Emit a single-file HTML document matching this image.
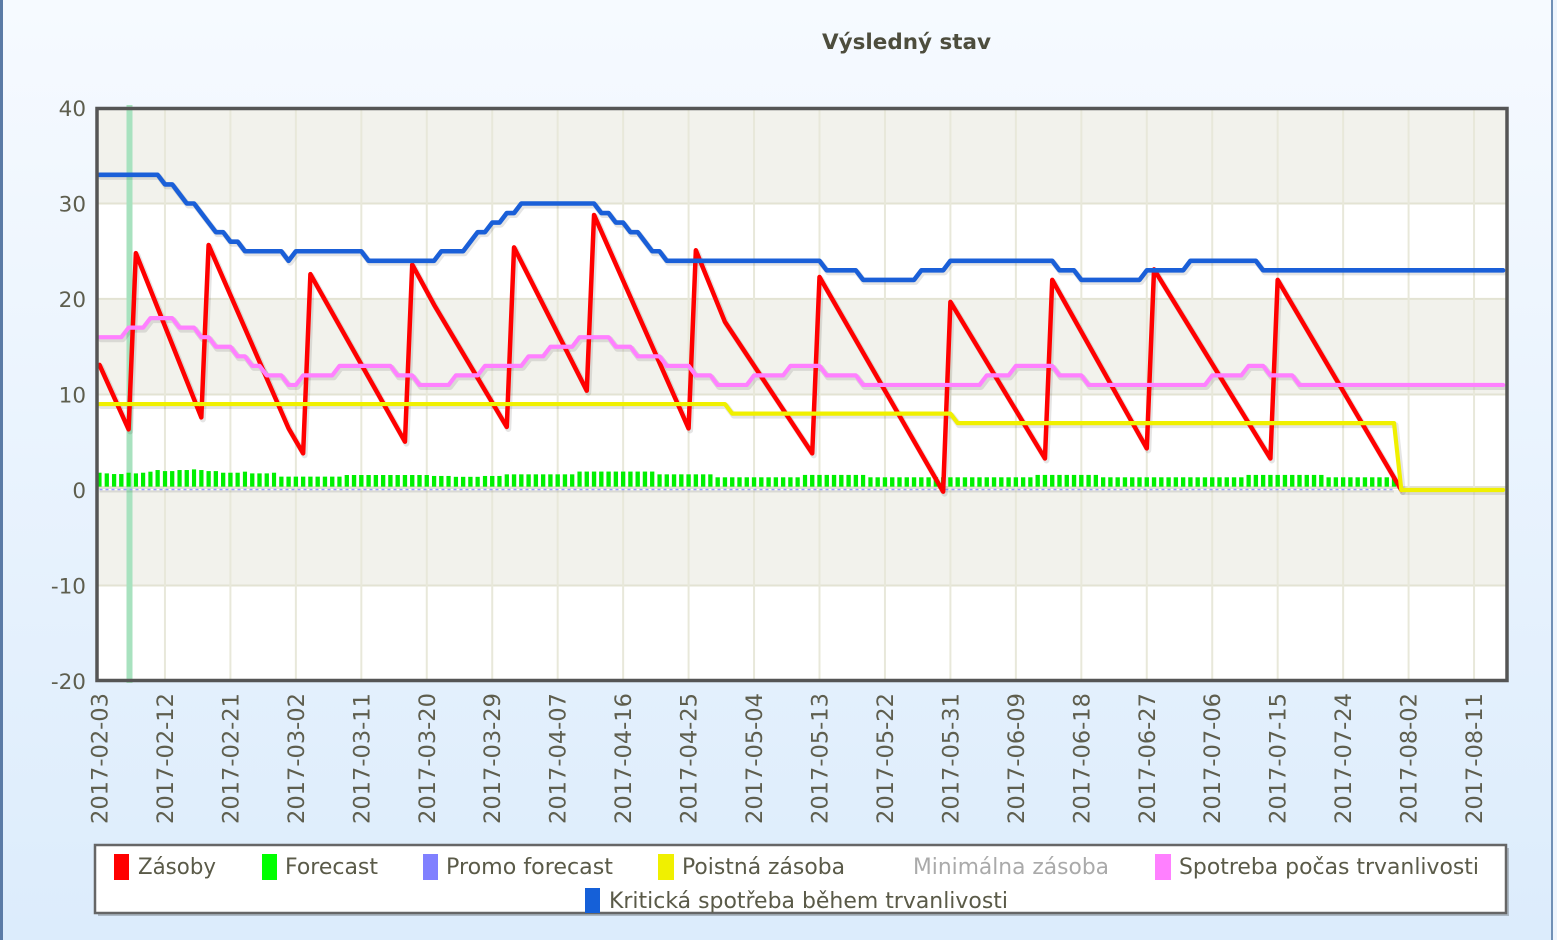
<!DOCTYPE html>
<html>
<head>
<meta charset="utf-8">
<style>
html,body{margin:0;padding:0;width:1557px;height:940px;overflow:hidden;background:#eaf3fd;}
svg{display:block;}
</style>
</head>
<body>
<svg width="1557" height="940" viewBox="0 0 1557 940" xmlns="http://www.w3.org/2000/svg" font-family="'DejaVu Sans','Liberation Sans',sans-serif">
<defs>
<linearGradient id="bg" x1="0" y1="0" x2="0" y2="1">
<stop offset="0" stop-color="#f6faff"/>
<stop offset="1" stop-color="#dcecfc"/>
</linearGradient>
<pattern id="bp" patternUnits="userSpaceOnUse" x="-0.3" y="-50" width="1" height="200">
<rect x="0" y="0" width="0.6" height="200" fill="#00f000"/>
</pattern>
</defs>

<!-- page background -->
<rect x="0" y="0" width="1557" height="940" fill="url(#bg)"/>
<rect x="0" y="0" width="3" height="940" fill="#5b7ba6"/>
<rect x="1551" y="0" width="2" height="940" fill="#7090b6"/>
<rect x="1553" y="0" width="4" height="940" fill="#eef5fd"/>

<!-- title -->
<text x="906.5" y="49" text-anchor="middle" font-weight="bold" font-size="21.5" fill="#4d4d3d" textLength="169" lengthAdjust="spacingAndGlyphs">Výsledný stav</text>

<!-- plot background bands -->
<rect x="97" y="108" width="1410" height="573" fill="#ffffff"/>
<rect x="97" y="108" width="1410" height="95.5" fill="#f2f2ec"/>
<rect x="97" y="298.9" width="1410" height="95.6" fill="#f2f2ec"/>
<rect x="97" y="490" width="1410" height="95.5" fill="#f2f2ec"/>

<!-- horizontal grid -->
<g stroke="#e3e3d3" stroke-width="2">
<line x1="97" y1="203.5" x2="1507" y2="203.5"/>
<line x1="97" y1="298.9" x2="1507" y2="298.9"/>
<line x1="97" y1="394.5" x2="1507" y2="394.5"/>
<line x1="97" y1="585.5" x2="1507" y2="585.5"/>
</g>
<line x1="97" y1="487.5" x2="1507" y2="487.5" stroke="#e2e2d2" stroke-width="3"/>

<!-- vertical grid -->
<g stroke="#e8e8da" stroke-width="2">
<line x1="164.95" y1="108" x2="164.95" y2="681"/>
<line x1="230.41" y1="108" x2="230.41" y2="681"/>
<line x1="295.86" y1="108" x2="295.86" y2="681"/>
<line x1="361.32" y1="108" x2="361.32" y2="681"/>
<line x1="426.77" y1="108" x2="426.77" y2="681"/>
<line x1="492.23" y1="108" x2="492.23" y2="681"/>
<line x1="557.68" y1="108" x2="557.68" y2="681"/>
<line x1="623.14" y1="108" x2="623.14" y2="681"/>
<line x1="688.59" y1="108" x2="688.59" y2="681"/>
<line x1="754.05" y1="108" x2="754.05" y2="681"/>
<line x1="819.5" y1="108" x2="819.5" y2="681"/>
<line x1="884.95" y1="108" x2="884.95" y2="681"/>
<line x1="950.41" y1="108" x2="950.41" y2="681"/>
<line x1="1015.86" y1="108" x2="1015.86" y2="681"/>
<line x1="1081.32" y1="108" x2="1081.32" y2="681"/>
<line x1="1146.77" y1="108" x2="1146.77" y2="681"/>
<line x1="1212.23" y1="108" x2="1212.23" y2="681"/>
<line x1="1277.68" y1="108" x2="1277.68" y2="681"/>
<line x1="1343.14" y1="108" x2="1343.14" y2="681"/>
<line x1="1408.59" y1="108" x2="1408.59" y2="681"/>
<line x1="1474.05" y1="108" x2="1474.05" y2="681"/>
</g>

<!-- today marker -->
<line x1="129.5" y1="105" x2="129.5" y2="683" stroke="#a8e2bf" stroke-width="6"/>

<!-- forecast bars -->
<g transform="matrix(7.2727,0,0,-9.55,99.5,490)">
<rect x="-0.3" y="0.35" width="0.6" height="1.46" fill="url(#bp)"/>
<rect x="0.7" y="0.35" width="0.6" height="1.39" fill="url(#bp)"/>
<rect x="1.7" y="0.35" width="1.6" height="1.32" fill="url(#bp)"/>
<rect x="3.7" y="0.35" width="0.6" height="1.46" fill="url(#bp)"/>
<rect x="4.7" y="0.35" width="0.6" height="1.39" fill="url(#bp)"/>
<rect x="5.7" y="0.35" width="0.6" height="1.46" fill="url(#bp)"/>
<rect x="6.7" y="0.35" width="0.6" height="1.57" fill="url(#bp)"/>
<rect x="7.7" y="0.35" width="0.6" height="1.74" fill="url(#bp)"/>
<rect x="8.7" y="0.35" width="1.6" height="1.63" fill="url(#bp)"/>
<rect x="10.7" y="0.35" width="1.6" height="1.74" fill="url(#bp)"/>
<rect x="12.7" y="0.35" width="0.6" height="1.81" fill="url(#bp)"/>
<rect x="13.7" y="0.35" width="0.6" height="1.74" fill="url(#bp)"/>
<rect x="14.7" y="0.35" width="1.6" height="1.63" fill="url(#bp)"/>
<rect x="16.7" y="0.35" width="2.6" height="1.46" fill="url(#bp)"/>
<rect x="19.7" y="0.35" width="0.6" height="1.57" fill="url(#bp)"/>
<rect x="20.7" y="0.35" width="2.6" height="1.39" fill="url(#bp)"/>
<rect x="23.7" y="0.35" width="0.6" height="1.46" fill="url(#bp)"/>
<rect x="24.7" y="0.35" width="8.6" height="1.05" fill="url(#bp)"/>
<rect x="33.7" y="0.35" width="11.6" height="1.22" fill="url(#bp)"/>
<rect x="45.7" y="0.35" width="2.6" height="1.12" fill="url(#bp)"/>
<rect x="48.7" y="0.35" width="3.6" height="1.03" fill="url(#bp)"/>
<rect x="52.7" y="0.35" width="2.6" height="1.12" fill="url(#bp)"/>
<rect x="55.7" y="0.35" width="9.6" height="1.29" fill="url(#bp)"/>
<rect x="65.7" y="0.35" width="10.6" height="1.58" fill="url(#bp)"/>
<rect x="76.7" y="0.35" width="7.6" height="1.29" fill="url(#bp)"/>
<rect x="84.7" y="0.35" width="11.6" height="0.98" fill="url(#bp)"/>
<rect x="96.7" y="0.35" width="8.6" height="1.23" fill="url(#bp)"/>
<rect x="105.7" y="0.35" width="22.6" height="0.98" fill="url(#bp)"/>
<rect x="128.7" y="0.35" width="8.6" height="1.23" fill="url(#bp)"/>
<rect x="137.7" y="0.35" width="19.6" height="0.98" fill="url(#bp)"/>
<rect x="157.7" y="0.35" width="10.6" height="1.23" fill="url(#bp)"/>
<rect x="168.7" y="0.35" width="9.6" height="0.98" fill="url(#bp)"/>
</g>

<!-- promo forecast at zero -->
<line x1="99.5" y1="491.5" x2="1394" y2="491.5" stroke="rgba(0,0,0,0.10)" stroke-width="2"/>
<line x1="99.5" y1="489.5" x2="1394" y2="489.5" stroke="#9a9aff" stroke-width="1.5" stroke-dasharray="3 3"/>

<!-- series shadows -->
<g transform="translate(1.5,2)">
<g transform="matrix(7.2727,0,0,-9.55,99.5,490)" fill="none" stroke="rgba(0,0,0,0.10)" stroke-width="6" stroke-linejoin="round" stroke-linecap="round">
<polyline vector-effect="non-scaling-stroke" points="0,13.1 4,6.35 5,24.8 14,7.6 15,25.65 26,6.45 28,3.84 29,22.6 42,5.06 43,23.6 46,19.4 56,6.6 57,25.4 67,10.4 68,28.8 81,6.45 82,25.1 86,17.6 98,3.84 99,22.3 116,-0.17 117,19.7 130,3.3 131,22 144,4.36 145,23.1 161,3.3 162,22 179,0"/>
<polyline vector-effect="non-scaling-stroke" points="0,9 86,9 87,8 117,8 118,7 178,7 179,0 193,0"/>
<polyline vector-effect="non-scaling-stroke" points="0,16 3,16 4,17 6,17 7,18 10,18 11,17 13,17 14,16 15,16 16,15 18,15 19,14 20,14 21,13 22,13 23,12 25,12 26,11 27,11 28,12 32,12 33,13 40,13 41,12 43,12 44,11 48,11 49,12 52,12 53,13 58,13 59,14 61,14 62,15 65,15 66,16 70,16 71,15 73,15 74,14 77,14 78,13 81,13 82,12 84,12 85,11 89,11 90,12 94,12 95,13 99,13 100,12 104,12 105,11 121,11 122,12 125,12 126,13 131,13 132,12 135,12 136,11 152,11 153,12 157,12 158,13 160,13 161,12 164,12 165,11 193,11"/>
<polyline vector-effect="non-scaling-stroke" points="0,33 8,33 9,32 10,32 11,31 12,30 13,30 14,29 15,28 16,27 17,27 18,26 19,26 20,25 25,25 26,24 27,25 36,25 37,24 46,24 47,25 50,25 51,26 52,27 53,27 54,28 55,28 56,29 57,29 58,30 68,30 69,29 70,29 71,28 72,28 73,27 74,27 75,26 76,25 77,25 78,24 99,24 100,23 104,23 105,22 112,22 113,23 116,23 117,24 131,24 132,23 134,23 135,22 143,22 144,23 149,23 150,24 159,24 160,23 193,23"/>
</g>
</g>

<!-- series -->
<g transform="matrix(7.2727,0,0,-9.55,99.5,490)" fill="none" stroke-linejoin="round" stroke-linecap="round">
<!-- Zasoby -->
<polyline vector-effect="non-scaling-stroke" stroke="#ff0000" stroke-width="4.5" points="0,13.1 4,6.35 5,24.8 14,7.6 15,25.65 26,6.45 28,3.84 29,22.6 42,5.06 43,23.6 46,19.4 56,6.6 57,25.4 67,10.4 68,28.8 81,6.45 82,25.1 86,17.6 98,3.84 99,22.3 116,-0.17 117,19.7 130,3.3 131,22 144,4.36 145,23.1 161,3.3 162,22 179,0"/>
<!-- Poistna zasoba -->
<polyline vector-effect="non-scaling-stroke" stroke="#f0f000" stroke-width="4.2" points="0,9 86,9 87,8 117,8 118,7 178,7 179,0 193,0"/>
<!-- Spotreba pocas trvanlivosti -->
<polyline vector-effect="non-scaling-stroke" stroke="#ff80ff" stroke-width="4.2" points="0,16 3,16 4,17 6,17 7,18 10,18 11,17 13,17 14,16 15,16 16,15 18,15 19,14 20,14 21,13 22,13 23,12 25,12 26,11 27,11 28,12 32,12 33,13 40,13 41,12 43,12 44,11 48,11 49,12 52,12 53,13 58,13 59,14 61,14 62,15 65,15 66,16 70,16 71,15 73,15 74,14 77,14 78,13 81,13 82,12 84,12 85,11 89,11 90,12 94,12 95,13 99,13 100,12 104,12 105,11 121,11 122,12 125,12 126,13 131,13 132,12 135,12 136,11 152,11 153,12 157,12 158,13 160,13 161,12 164,12 165,11 193,11"/>
<!-- Kriticka spotreba -->
<polyline vector-effect="non-scaling-stroke" stroke="#1a5fd8" stroke-width="4.6" points="0,33 8,33 9,32 10,32 11,31 12,30 13,30 14,29 15,28 16,27 17,27 18,26 19,26 20,25 25,25 26,24 27,25 36,25 37,24 46,24 47,25 50,25 51,26 52,27 53,27 54,28 55,28 56,29 57,29 58,30 68,30 69,29 70,29 71,28 72,28 73,27 74,27 75,26 76,25 77,25 78,24 99,24 100,23 104,23 105,22 112,22 113,23 116,23 117,24 131,24 132,23 134,23 135,22 143,22 144,23 149,23 150,24 159,24 160,23 193,23"/>
</g>

<!-- plot border -->
<rect x="97" y="108.5" width="1410" height="572" fill="none" stroke="#555555" stroke-width="3.5"/>

<!-- y axis labels -->
<g font-size="21.5" fill="#5e5e4e" text-anchor="end">
<text x="86" y="116">40</text>
<text x="86" y="211.5">30</text>
<text x="86" y="307">20</text>
<text x="86" y="402.5">10</text>
<text x="86" y="498">0</text>
<text x="86" y="593.5">-10</text>
<text x="86" y="689">-20</text>
</g>

<!-- x axis labels -->
<g font-size="22.5" fill="#5e5e4e" text-anchor="end">
<text transform="translate(107.5,693) rotate(-90)" textLength="131" lengthAdjust="spacingAndGlyphs">2017-02-03</text>
<text transform="translate(172.95,693) rotate(-90)" textLength="131" lengthAdjust="spacingAndGlyphs">2017-02-12</text>
<text transform="translate(238.41,693) rotate(-90)" textLength="131" lengthAdjust="spacingAndGlyphs">2017-02-21</text>
<text transform="translate(303.86,693) rotate(-90)" textLength="131" lengthAdjust="spacingAndGlyphs">2017-03-02</text>
<text transform="translate(369.32,693) rotate(-90)" textLength="131" lengthAdjust="spacingAndGlyphs">2017-03-11</text>
<text transform="translate(434.77,693) rotate(-90)" textLength="131" lengthAdjust="spacingAndGlyphs">2017-03-20</text>
<text transform="translate(500.23,693) rotate(-90)" textLength="131" lengthAdjust="spacingAndGlyphs">2017-03-29</text>
<text transform="translate(565.68,693) rotate(-90)" textLength="131" lengthAdjust="spacingAndGlyphs">2017-04-07</text>
<text transform="translate(631.14,693) rotate(-90)" textLength="131" lengthAdjust="spacingAndGlyphs">2017-04-16</text>
<text transform="translate(696.59,693) rotate(-90)" textLength="131" lengthAdjust="spacingAndGlyphs">2017-04-25</text>
<text transform="translate(762.05,693) rotate(-90)" textLength="131" lengthAdjust="spacingAndGlyphs">2017-05-04</text>
<text transform="translate(827.5,693) rotate(-90)" textLength="131" lengthAdjust="spacingAndGlyphs">2017-05-13</text>
<text transform="translate(892.95,693) rotate(-90)" textLength="131" lengthAdjust="spacingAndGlyphs">2017-05-22</text>
<text transform="translate(958.41,693) rotate(-90)" textLength="131" lengthAdjust="spacingAndGlyphs">2017-05-31</text>
<text transform="translate(1023.86,693) rotate(-90)" textLength="131" lengthAdjust="spacingAndGlyphs">2017-06-09</text>
<text transform="translate(1089.32,693) rotate(-90)" textLength="131" lengthAdjust="spacingAndGlyphs">2017-06-18</text>
<text transform="translate(1154.77,693) rotate(-90)" textLength="131" lengthAdjust="spacingAndGlyphs">2017-06-27</text>
<text transform="translate(1220.23,693) rotate(-90)" textLength="131" lengthAdjust="spacingAndGlyphs">2017-07-06</text>
<text transform="translate(1285.68,693) rotate(-90)" textLength="131" lengthAdjust="spacingAndGlyphs">2017-07-15</text>
<text transform="translate(1351.14,693) rotate(-90)" textLength="131" lengthAdjust="spacingAndGlyphs">2017-07-24</text>
<text transform="translate(1416.59,693) rotate(-90)" textLength="131" lengthAdjust="spacingAndGlyphs">2017-08-02</text>
<text transform="translate(1482.05,693) rotate(-90)" textLength="131" lengthAdjust="spacingAndGlyphs">2017-08-11</text>
</g>

<!-- legend -->
<rect x="98" y="848" width="1411" height="68" fill="#000" opacity="0.22"/>
<rect x="95" y="845" width="1411" height="68" fill="#ffffff" stroke="#666666" stroke-width="2.5"/>
<rect x="114" y="854" width="15" height="26" fill="#ff0000"/>
<rect x="262" y="854" width="15" height="26" fill="#00ff00"/>
<rect x="423" y="854" width="15" height="26" fill="#8080ff"/>
<rect x="658" y="854" width="16" height="26" fill="#f0f000"/>
<rect x="1155" y="854" width="16" height="26" fill="#ff80ff"/>
<rect x="585" y="888" width="15" height="25" fill="#1560d8"/>
<g font-size="21.8" fill="#5a5a48">
<text x="138" y="874" textLength="78" lengthAdjust="spacingAndGlyphs">Zásoby</text>
<text x="285" y="874" textLength="93" lengthAdjust="spacingAndGlyphs">Forecast</text>
<text x="446" y="874" textLength="167" lengthAdjust="spacingAndGlyphs">Promo forecast</text>
<text x="682" y="874" textLength="163" lengthAdjust="spacingAndGlyphs">Poistná zásoba</text>
<text x="913" y="874" fill="#aaaaaa" textLength="196" lengthAdjust="spacingAndGlyphs">Minimálna zásoba</text>
<text x="1179" y="874" textLength="300" lengthAdjust="spacingAndGlyphs">Spotreba počas trvanlivosti</text>
<text x="609" y="908" textLength="399" lengthAdjust="spacingAndGlyphs">Kritická spotřeba během trvanlivosti</text>
</g>
</svg>
</body>
</html>
